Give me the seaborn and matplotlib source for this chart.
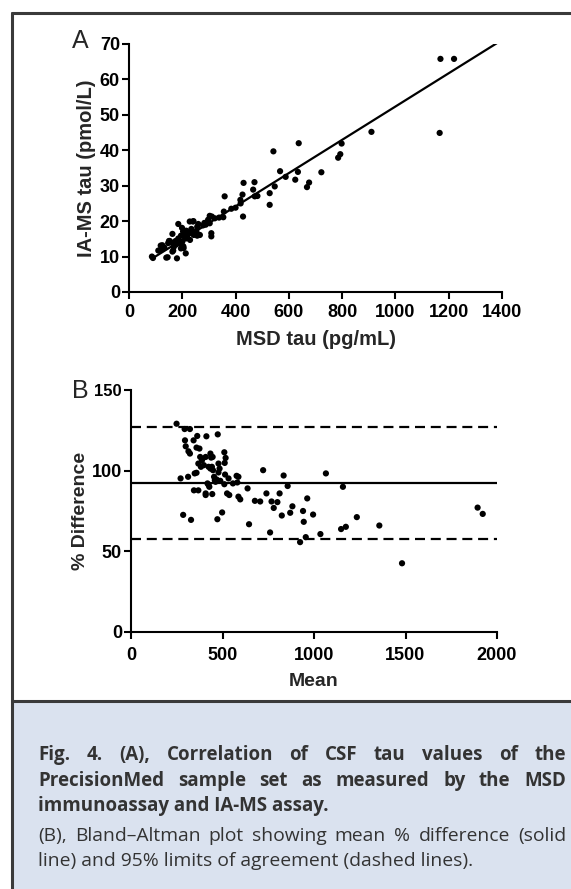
import matplotlib
matplotlib.use("Agg")
import numpy as np
import pandas as pd
import matplotlib.pyplot as plt
import seaborn as sns
from matplotlib.lines import Line2D
from matplotlib.patches import Rectangle

# ==================== Data ====================
# Panel A: MSD tau (pg/mL) vs IA-MS tau (pmol/L)
msd_tau = [
    86, 90, 110, 119, 120, 125, 133, 140, 145, 147, 150, 153, 161, 163, 163,
    166, 168, 175, 177, 180, 181, 185, 185, 190, 195, 195, 199, 200, 203, 204,
    205, 208, 212, 213, 213, 215, 220, 226, 228, 229, 234, 236, 240, 242, 243,
    253, 256, 256, 260, 266, 278, 283, 288, 297, 303, 303, 309, 309, 311, 322,
    338, 354, 356, 359, 384, 400, 418, 419, 426, 428, 430, 466, 471, 472, 482,
    528, 528, 542, 547, 567, 588, 624, 634, 637, 668, 676, 722, 785, 793, 798,
    910, 1166, 1169, 1220,
]
iams_tau = [
    10.0, 9.6, 11.7, 13.1, 12.0, 13.2, 12.5, 9.7, 9.8, 13.8, 14.4, 14.4, 13.9, 16.4, 11.4,
    11.7, 12.7, 14.4, 13.4, 9.5, 14.3, 19.2, 15.1, 13.8, 15.9, 12.3, 18.1, 14.2, 17.1, 12.9,
    12.4, 15.7, 17.2, 10.9, 15.1, 17.3, 16.1, 16.7, 19.9, 14.7, 17.8, 17.4, 19.9, 20.0, 16.1,
    17.1, 18.4, 15.9, 19.2, 16.1, 18.8, 19.5, 19.0, 20.4, 21.5, 19.4, 16.6, 15.7, 21.3, 20.8,
    21.0, 21.1, 22.7, 27.0, 23.5, 23.8, 26.0, 25.0, 27.5, 21.3, 30.8, 28.9, 31.0, 27.0, 27.1,
    27.9, 24.6, 39.7, 29.8, 34.1, 32.5, 31.7, 33.9, 42.0, 29.6, 30.9, 33.8, 37.9, 38.9, 41.9,
    45.2, 44.9, 65.8, 65.8,
]
fit_x = [90, 1380]
fit_slope = 0.04698
fit_intercept = 5.37

# Panel B: Bland-Altman, mean vs % difference
ba_mean = [
    249, 271, 285, 293, 295, 299, 312, 314, 322, 322, 328, 342, 344, 348, 358,
    358, 362, 368, 368, 374, 378, 382, 388, 398, 408, 408, 408, 412, 418, 424,
    424, 428, 434, 434, 438, 442, 444, 446, 448, 454, 458, 462, 468, 472, 474,
    478, 478, 484, 488, 498, 510, 510, 512, 514, 517, 525, 533, 537, 557, 577,
    581, 587, 587, 597, 637, 645, 677, 706, 722, 740, 760, 768, 780, 800, 812,
    824, 834, 856, 870, 882, 924, 940, 944, 955, 963, 995, 1035, 1065, 1148, 1158,
    1174, 1234, 1357, 1481, 1894, 1922,
]
ba_diff = [
    129.1, 95.2, 72.6, 125.8, 118.8, 115.1, 96.2, 112.0, 125.8, 110.6, 69.5, 118.8, 87.8, 98.3, 114.3,
    98.7, 121.5, 87.8, 104.4, 113.7, 108.5, 102.4, 106.5, 103.4, 108.5, 85.9, 84.9, 121.3, 92.1, 91.1,
    102.4, 90.0, 110.6, 101.3, 108.1, 102.4, 85.5, 108.5, 100.3, 96.2, 94.1, 93.1, 94.5, 69.9, 122.5,
    104.4, 98.9, 101.3, 93.7, 74.1, 111.4, 91.6, 104.8, 97.6, 107.9, 85.9, 95.2, 84.9, 92.1, 96.8,
    92.7, 96.2, 83.9, 82.2, 89.0, 66.8, 81.3, 80.9, 100.3, 85.9, 61.7, 80.9, 76.9, 80.5, 85.9,
    72.2, 97.0, 90.5, 73.9, 77.9, 55.7, 75.0, 68.3, 58.8, 82.8, 72.8, 60.7, 98.3, 63.8, 90.0,
    65.2, 71.2, 66.0, 42.6, 77.1, 73.2,
]
ba_bias = 92.1
ba_loa = [126.8, 57.5]

caption_bold = [
    "Fig. 4. (A), Correlation of CSF tau values of the",
    "PrecisionMed sample set as measured by the MSD",
    "immunoassay and IA-MS assay.",
]
caption_regular = [
    "(B), Bland\u2013Altman plot showing mean % difference (solid",
    "line) and 95% limits of agreement (dashed lines).",
]

# ==================== Style ====================
sns.set_theme(style="ticks")
plt.rcParams.update({
    "font.family": ["Liberation Sans", "DejaVu Sans"],
    "axes.linewidth": 1.5,
    "xtick.major.width": 1.5,
    "ytick.major.width": 1.5,
    "xtick.major.size": 5,
    "ytick.major.size": 5,
    "xtick.direction": "out",
    "ytick.direction": "out",
    "axes.edgecolor": "black",
    "xtick.color": "black",
    "ytick.color": "black",
})

W, H = 571, 889
fig = plt.figure(figsize=(W / 100, H / 100), dpi=100)


def px_box(left, top, right, bottom):
    return [left / W, 1 - bottom / H, (right - left) / W, (bottom - top) / H]


def style_axes(ax, xsize, ysize, xpad=4):
    sns.despine(ax=ax)
    for lab in ax.get_xticklabels():
        lab.set_fontweight("bold")
        lab.set_fontsize(xsize)
    for lab in ax.get_yticklabels():
        lab.set_fontweight("bold")
        lab.set_fontsize(ysize)
    ax.tick_params(axis="x", pad=xpad)
    ax.tick_params(axis="y", pad=1.5)


# ---- Panel A ----
axA = fig.add_axes(px_box(129, 44, 502, 292))
dfA = pd.DataFrame({"msd": msd_tau, "iams": iams_tau})
sns.scatterplot(data=dfA, x="msd", y="iams", color="black", s=20,
                edgecolor="none", ax=axA, clip_on=False, zorder=3)
fit_y = [fit_intercept + fit_slope * v for v in fit_x]
sns.lineplot(x=fit_x, y=fit_y, color="black", linewidth=1.6, ax=axA)
axA.set_xlim(0, 1400)
axA.set_ylim(0, 70)
axA.set_xticks(range(0, 1401, 200))
axA.set_yticks(range(0, 71, 10))
axA.set_xlabel("MSD tau (pg/mL)", fontsize=14.5, fontweight="bold", labelpad=6)
axA.set_ylabel("IA-MS tau (pmol/L)", fontsize=14.5, fontweight="bold", labelpad=3)
style_axes(axA, 13, 13, xpad=4)

# ---- Panel B ----
axB = fig.add_axes(px_box(131, 390, 497, 632))
dfB = pd.DataFrame({"mean": ba_mean, "diff": ba_diff})
sns.scatterplot(data=dfB, x="mean", y="diff", color="black", s=20,
                edgecolor="none", ax=axB, clip_on=False, zorder=3)
axB.axhline(ba_bias, color="black", linewidth=1.6)
for v in ba_loa:
    axB.axhline(v, color="black", linewidth=1.6, linestyle=(0, (4.5, 2.6)))
axB.set_xlim(0, 2000)
axB.set_ylim(0, 150)
axB.set_xticks(range(0, 2001, 500))
axB.set_yticks([0, 50, 100, 150])
axB.set_xlabel("Mean", fontsize=14, fontweight="bold", labelpad=6)
axB.set_ylabel("% Difference", fontsize=14, fontweight="bold", labelpad=2)
style_axes(axB, 13, 13, xpad=6)
axB.get_yticklabels()[-1].set_fontsize(12)

# panel letters
fig.text(72 / W, 1 - 48 / H, "A", fontsize=18, va="baseline", ha="left")
fig.text(72 / W, 1 - 398 / H, "B", fontsize=18, va="baseline", ha="left")

# ---- Frame and caption box ----
frame_col = "#3a3a3a"
fig.patches.append(Rectangle((13 / W, 0), 1, (H - 702) / H, transform=fig.transFigure,
                             facecolor="#dae2ef", edgecolor="none", zorder=0))
fig.lines.append(Line2D([12 / W, 1], [1 - 13 / H, 1 - 13 / H], transform=fig.transFigure,
                        color=frame_col, linewidth=2.2))
fig.lines.append(Line2D([12 / W, 12 / W], [0, 1 - 13 / H], transform=fig.transFigure,
                        color=frame_col, linewidth=2.2))
fig.lines.append(Line2D([12 / W, 1], [1 - 701 / H, 1 - 701 / H], transform=fig.transFigure,
                        color=frame_col, linewidth=2.2))

text_col = "#333333"
cap_font = ["Open Sans", "DejaVu Sans"]
renderer = fig.canvas.get_renderer()


def justified(line, y_px, weight, size, justify=True, x0=38, x1=566):
    if not justify:
        fig.text(x0 / W, 1 - y_px / H, line, fontsize=size, fontweight=weight,
                 family=cap_font, color=text_col, va="baseline", ha="left")
        return
    words = line.split(" ")
    texts = [fig.text(0, 1 - y_px / H, w, fontsize=size, fontweight=weight,
                      family=cap_font, color=text_col, va="baseline", ha="left")
             for w in words]
    widths = [t.get_window_extent(renderer).width for t in texts]
    gap = (x1 - x0 - sum(widths)) / (len(words) - 1)
    x = x0
    for t, w in zip(texts, widths):
        t.set_x(x / W)
        x += w + gap


bold_y = [760, 786, 811]
for i, (line, y) in enumerate(zip(caption_bold, bold_y)):
    justified(line, y, "bold", 13.5, justify=i < len(caption_bold) - 1)
reg_y = [841, 866]
for i, (line, y) in enumerate(zip(caption_regular, reg_y)):
    justified(line, y, "normal", 13.9, justify=i < len(caption_regular) - 1)

fig.savefig("out.png", dpi=100)
